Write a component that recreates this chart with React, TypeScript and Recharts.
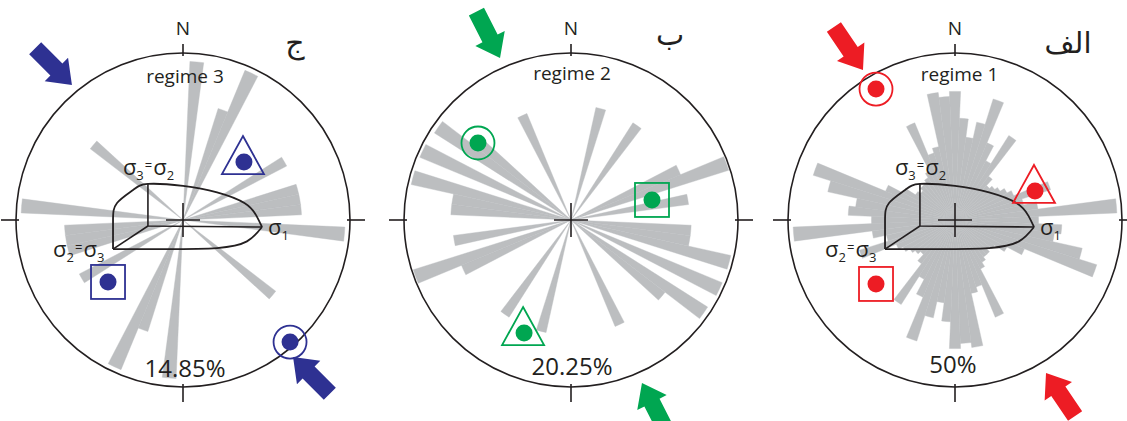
import React from 'react'
import {
  RadialBarChart,
  RadialBar,
  PolarAngleAxis,
  PolarRadiusAxis,
  ScatterChart,
  Scatter,
  XAxis,
  YAxis,
} from 'recharts'

const FONT = '"Open Sans", "Noto Sans", sans-serif'
const FA_FONT = '"DejaVu Sans", sans-serif'
const INK = '#231f20'
const PETAL = '#bcbec0'
const BLUE = '#2e3192'
const GREEN = '#00a651'
const RED = '#ed1c24'

const W = 1127
const H = 421
const PANEL_W = 388
const CY = 220
const R = 167

// 5-degree bins centred on 0..175, mirrored to 180..355 (axial data)
const BINS = [
  0, 5, 10, 15, 20, 25, 30, 35, 40, 45, 50, 55, 60, 65, 70, 75, 80, 85,
  90, 95, 100, 105, 110, 115, 120, 125, 130, 135, 140, 145, 150, 155, 160, 165, 170, 175,
]

// petal length as fraction of the net radius
const REGIME3 = [
  0, 0, 0.95, 0, 0, 0.7, 0.97, 0, 0, 0, 0, 0, 0, 0.7, 0, 0, 0.71, 0.71,
  0.71, 0, 0.97, 0, 0, 0, 0, 0, 0, 0.7, 0, 0, 0, 0, 0, 0, 0, 0,
]
const REGIME2 = [
  0, 0, 0, 0, 0.69, 0, 0, 0, 0.69, 0, 0, 0, 0, 0, 0.71, 0.99, 0, 0.71,
  0, 0, 0.72, 0.72, 0.98, 0, 0.98, 0, 0.97, 0.71, 0, 0, 0, 0, 0.69, 0, 0, 0,
]
const REGIME1 = [
  0.74, 0.77, 0.61, 0.5, 0.6, 0.76, 0.5, 0.4, 0.6, 0.33, 0.28, 0.3, 0.32, 0.35, 0.38, 0.6, 0.42, 0.5,
  0.97, 0.5, 0.64, 0.6, 0.78, 0.89, 0.45, 0.35, 0.28, 0.26, 0.28, 0.28, 0.3, 0.33, 0.63, 0.42, 0.45, 0.77,
]

const CENTERS_X = [183, 571, 955]

// N / E / S / W ticks on the net
const TICKS = [
  { x: 0, y: 1, a: 0, len: 9 },
  { x: 1, y: 0, a: 90, len: 15 },
  { x: 0, y: -1, a: 180, len: 15 },
  { x: -1, y: 0, a: 270, len: 15 },
]
const ORIGIN = [{ x: 0, y: 0 }]

// stress ellipsoid sketch (net units)
const ELLIPSE_UPPER = [
  { x: -0.419, y: -0.174 },
  { x: -0.419, y: 0.0 },
  { x: -0.395, y: 0.102 },
  { x: -0.299, y: 0.18 },
  { x: -0.21, y: 0.216 },
  { x: 0.0, y: 0.204 },
  { x: 0.204, y: 0.165 },
  { x: 0.37, y: 0.1 },
  { x: 0.44, y: 0.025 },
  { x: 0.473, y: -0.042 },
]
const ELLIPSE_LOWER = [
  { x: -0.419, y: -0.174 },
  { x: -0.1, y: -0.174 },
  { x: 0.204, y: -0.168 },
  { x: 0.383, y: -0.128 },
  { x: 0.473, y: -0.042 },
]
const AXES_MAIN = [
  { x: -0.21, y: 0.216 },
  { x: -0.21, y: -0.036 },
  { x: 0.473, y: -0.042 },
]
const AXES_DIAG = [
  { x: -0.21, y: -0.036 },
  { x: -0.419, y: -0.174 },
]
const SIGMAS = [
  { x: -0.36, y: 0.27, a: '3', b: '2' },
  { x: -0.778, y: -0.222, a: '2', b: '3' },
  { x: 0.509, y: -0.09, a: '1', b: '' },
]

const MARKERS_3 = [
  { x: 0.359, y: 0.347, kind: 'triangle' },
  { x: -0.449, y: -0.371, kind: 'square' },
  { x: 0.641, y: -0.731, kind: 'circle' },
]
const MARKERS_2 = [
  { x: -0.557, y: 0.461, kind: 'circle' },
  { x: 0.485, y: 0.12, kind: 'square' },
  { x: -0.287, y: -0.677, kind: 'triangle' },
]
const MARKERS_1 = [
  { x: -0.473, y: 0.784, kind: 'circle' },
  { x: 0.473, y: 0.174, kind: 'triangle' },
  { x: -0.473, y: -0.383, kind: 'square' },
]

// arrow tip position and pointing azimuth (deg from N)
const ARROWS_3 = [
  { x: -0.665, y: 0.808, dir: 135 },
  { x: 0.659, y: -0.82, dir: 315 },
]
const ARROWS_2 = [
  { x: -0.425, y: 0.97, dir: 153 },
  { x: 0.425, y: -0.976, dir: 333 },
]
const ARROWS_1 = [
  { x: -0.551, y: 0.898, dir: 146 },
  { x: 0.545, y: -0.916, dir: 326 },
]

const LABELS_3 = [
  { x: 0, y: 1.108, text: 'N', size: 19 },
  { x: 0.012, y: 0.82, text: 'regime 3', size: 19 },
  { x: 0.67, y: 1.0, text: 'ج', size: 30, fa: true },
  { x: 0.012, y: -0.94, text: '14.85%', size: 24 },
]
const LABELS_2 = [
  { x: 0, y: 1.108, text: 'N', size: 19 },
  { x: 0.006, y: 0.838, text: 'regime 2', size: 19 },
  { x: 0.593, y: 1.05, text: 'ب', size: 30, fa: true },
  { x: 0.006, y: -0.928, text: '20.25%', size: 24 },
]
const LABELS_1 = [
  { x: 0, y: 1.108, text: 'N', size: 19 },
  { x: 0.027, y: 0.832, text: 'regime 1', size: 19 },
  { x: 0.677, y: 1.0, text: 'الف', size: 29, fa: true },
  { x: -0.012, y: -0.916, text: '50%', size: 24 },
]

interface PanelCfg {
  cx: number
  lengths: number[]
  color: string
  markers: { x: number; y: number; kind: string }[]
  arrows: { x: number; y: number; dir: number }[]
  labels: { x: number; y: number; text: string; size: number; fa?: boolean }[]
  ellipsoid: boolean
}

const PANELS: PanelCfg[] = [
  { cx: CENTERS_X[0], lengths: REGIME3, color: BLUE, markers: MARKERS_3, arrows: ARROWS_3, labels: LABELS_3, ellipsoid: true },
  { cx: CENTERS_X[1], lengths: REGIME2, color: GREEN, markers: MARKERS_2, arrows: ARROWS_2, labels: LABELS_2, ellipsoid: false },
  { cx: CENTERS_X[2], lengths: REGIME1, color: RED, markers: MARKERS_1, arrows: ARROWS_1, labels: LABELS_1, ellipsoid: true },
]

const X_HALF = PANEL_W / 2 / R
const Y_MAX = CY / R
const Y_MIN = -(H - CY) / R

function roseData(lengths: number[]) {
  const all = [...BINS, ...BINS.map((b) => b + 180)]
  return all.map((bin, i) => ({ bin, len: lengths[i % BINS.length] }))
}

const Empty = () => <g />

const TickShape = (p: any) => (
  <line
    transform={`translate(${p.cx},${p.cy}) rotate(${p.payload.a})`}
    x1={0}
    y1={3}
    x2={0}
    y2={-p.payload.len}
    stroke={INK}
    strokeWidth={1.6}
  />
)

const CrossShape = (p: any) => (
  <g stroke={INK} strokeWidth={1.6}>
    <line x1={p.cx - 17} y1={p.cy} x2={p.cx + 17} y2={p.cy} />
    <line x1={p.cx} y1={p.cy - 17} x2={p.cx} y2={p.cy + 17} />
  </g>
)

const makeMarker = (color: string) => (p: any) => {
  const { cx, cy } = p
  const kind = p.payload.kind
  if (kind === 'circle') {
    return (
      <g>
        <circle cx={cx} cy={cy} r={16.5} fill="none" stroke={color} strokeWidth={1.8} />
        <circle cx={cx} cy={cy} r={8.5} fill={color} />
      </g>
    )
  }
  if (kind === 'square') {
    return (
      <g>
        <rect x={cx - 17} y={cy - 17} width={34} height={34} fill="none" stroke={color} strokeWidth={1.8} />
        <circle cx={cx} cy={cy} r={8.5} fill={color} />
      </g>
    )
  }
  return (
    <g>
      <polygon
        points={`${cx},${cy - 26} ${cx + 21},${cy + 12} ${cx - 21},${cy + 12}`}
        fill="none"
        stroke={color}
        strokeWidth={1.8}
      />
      <circle cx={cx + 1} cy={cy} r={8.5} fill={color} />
    </g>
  )
}

const makeArrow = (color: string) => (p: any) => (
  <polygon
    transform={`translate(${p.cx},${p.cy}) rotate(${p.payload.dir})`}
    points="0,0 16.5,22 8.5,22 8.5,52 -8.5,52 -8.5,22 -16.5,22"
    fill={color}
  />
)

const LabelShape = (p: any) => (
  <text
    x={p.cx}
    y={p.cy}
    textAnchor="middle"
    fontSize={p.payload.size}
    fontFamily={p.payload.fa ? FA_FONT : FONT}
    fill={INK}
  >
    {p.payload.text}
  </text>
)

const SigmaShape = (p: any) => {
  const { a, b } = p.payload
  return (
    <text x={p.cx} y={p.cy} fontFamily={FONT} fill={INK}>
      <tspan fontSize={22}>σ</tspan>
      <tspan fontSize={13} dy={5}>{a}</tspan>
      {b ? (
        <>
          <tspan fontSize={13} dy={-10} dx={1}>=</tspan>
          <tspan fontSize={22} dy={5} dx={1}>σ</tspan>
          <tspan fontSize={13} dy={5}>{b}</tspan>
        </>
      ) : null}
    </text>
  )
}

const ZERO = { top: 0, right: 0, bottom: 0, left: 0 }

function RosePanel({ p }: { p: PanelCfg }) {
  const left = p.cx - PANEL_W / 2
  const data = roseData(p.lengths)
  return (
    <>
      <div style={{ position: 'absolute', left, top: 0 }}>
        <RadialBarChart
          width={PANEL_W}
          height={H}
          data={data}
          layout="centric"
          cx={PANEL_W / 2}
          cy={CY}
          innerRadius={0}
          outerRadius={R}
          startAngle={92.5}
          endAngle={-267.5}
          barCategoryGap={0}
          barGap={0}
          margin={ZERO}
        >
          <PolarRadiusAxis type="number" domain={[0, 1]} tick={false} axisLine={false} tickLine={false} />
          <RadialBar dataKey="len" fill={PETAL} stroke={PETAL} strokeWidth={0.4} isAnimationActive={false} />
          <PolarAngleAxis
            type="category"
            dataKey="bin"
            axisLineType="circle"
            axisLine={{ stroke: INK, strokeWidth: 1.6 }}
            tick={false}
            tickLine={false}
          />
        </RadialBarChart>
      </div>
      <div style={{ position: 'absolute', left, top: 0 }}>
        <ScatterChart width={PANEL_W} height={H} margin={ZERO}>
          <XAxis type="number" dataKey="x" domain={[-X_HALF, X_HALF]} hide allowDataOverflow />
          <YAxis type="number" dataKey="y" domain={[Y_MIN, Y_MAX]} hide allowDataOverflow />
          <Scatter data={TICKS} shape={TickShape} isAnimationActive={false} />
          <Scatter data={ORIGIN} shape={CrossShape} isAnimationActive={false} />
          {p.ellipsoid && (
            <Scatter
              data={ELLIPSE_UPPER}
              line={{ stroke: INK, strokeWidth: 1.8 }}
              lineType="joint"
              lineJointType="natural"
              shape={Empty}
              isAnimationActive={false}
            />
          )}
          {p.ellipsoid && (
            <Scatter
              data={ELLIPSE_LOWER}
              line={{ stroke: INK, strokeWidth: 1.8 }}
              lineType="joint"
              lineJointType="natural"
              shape={Empty}
              isAnimationActive={false}
            />
          )}
          {p.ellipsoid && (
            <Scatter
              data={AXES_MAIN}
              line={{ stroke: INK, strokeWidth: 1.6 }}
              lineType="joint"
              lineJointType="linear"
              shape={Empty}
              isAnimationActive={false}
            />
          )}
          {p.ellipsoid && (
            <Scatter
              data={AXES_DIAG}
              line={{ stroke: INK, strokeWidth: 1.6 }}
              lineType="joint"
              lineJointType="linear"
              shape={Empty}
              isAnimationActive={false}
            />
          )}
          {p.ellipsoid && <Scatter data={SIGMAS} shape={SigmaShape} isAnimationActive={false} />}
          <Scatter data={p.markers} shape={makeMarker(p.color)} isAnimationActive={false} />
          <Scatter data={p.arrows} shape={makeArrow(p.color)} isAnimationActive={false} />
          <Scatter data={p.labels} shape={LabelShape} isAnimationActive={false} />
        </ScatterChart>
      </div>
    </>
  )
}

export default function App() {
  return (
    <div style={{ position: 'relative', width: W, height: H, overflow: 'hidden', background: '#fff' }}>
      <style>{'body{margin:0}'}</style>
      {PANELS.map((p) => (
        <RosePanel key={p.cx} p={p} />
      ))}
    </div>
  )
}
